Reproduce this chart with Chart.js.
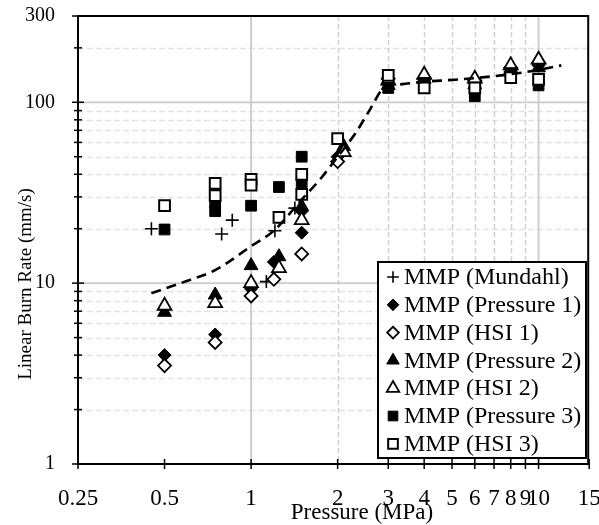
<!DOCTYPE html>
<html>
<head>
<meta charset="utf-8">
<script src="https://cdn.jsdelivr.net/npm/chart.js@4.4.1/dist/chart.umd.min.js"></script>
<style>
html, body { margin: 0; padding: 0; background: #fff; }
</style>
</head>
<body>
<canvas id="burnChart" width="599" height="525"></canvas>
<script>
// pressures (MPa) and burn rates (mm/s)
const mundahlP = [0.45, 0.79, 0.86, 1.13, 1.21, 1.42];
const mundahlR = [20, 18.7, 22.3, 10.2, 19.5, 26];

const press1P = [0.5, 0.75, 1.0, 1.2, 1.5, 1.5, 2.0, 3, 4, 6, 8, 10];
const press1R = [4.0, 5.2, 9.3, 13.1, 25, 19, 50, 128, 131, 128, 148, 160];

const hsi1P = [0.5, 0.75, 1.0, 1.2, 1.5, 2.0, 3, 4, 6, 8, 10];
const hsi1R = [3.5, 4.7, 8.5, 10.5, 14.5, 47, 135, 136, 132, 155, 165];

const press2P = [0.5, 0.75, 1.0, 1.25, 1.5, 2.1, 3, 4, 6, 8, 10];
const press2R = [6.9, 8.6, 12.5, 14, 26.5, 57, 124, 134, 125, 152, 155];

const hsi2P = [0.5, 0.75, 1.0, 1.25, 1.5, 2.1, 3, 4, 6, 8, 10];
const hsi2R = [7.5, 7.75, 10.0, 12.1, 22.3, 53, 132, 142, 135, 160, 172];

const press3P = [0.5, 0.75, 0.75, 1.0, 1.25, 1.5, 1.5, 3, 4, 6, 8, 10];
const press3R = [19.8, 27.6, 25, 26.8, 34, 50, 36, 120, 128, 108, 145, 124];

const hsi3P = [0.5, 0.75, 0.75, 1.0, 1.0, 1.25, 1.5, 1.5, 2.0, 3, 4, 6, 8, 10];
const hsi3R = [26.8, 35.6, 30.5, 37.5, 34.8, 23.1, 40, 31, 63, 141, 120, 120, 137, 134];

// dashed trend line
const fitP = [0.45, 0.6, 0.75, 1.0, 1.2, 1.5, 1.75, 2.0, 2.3, 2.6, 2.85, 3.0, 3.5, 4, 5, 6, 8, 10, 12];
const fitR = [8.8, 10.3, 11.8, 16.0, 19.5, 29, 38, 50, 67, 92, 117, 122, 127, 130, 133, 136, 143, 151, 160];

const seriesNames = ['MMP (Mundahl)', 'MMP (Pressure 1)', 'MMP (HSI 1)', 'MMP (Pressure 2)',
                     'MMP (HSI 2)', 'MMP (Pressure 3)', 'MMP (HSI 3)'];

const xTickVals = [0.25, 0.5, 1, 2, 3, 4, 5, 6, 7, 8, 9, 10, 15];
const yTickVals = [1, 10, 100, 300];
const yMinorVals = [2, 3, 4, 5, 6, 7, 8, 9, 20, 30, 40, 50, 60, 70, 80, 90, 200];
const xSolidGrid = [1, 10];
const xDashGrid = [2, 3, 4, 5, 6, 7, 8, 9];
const ySolidGrid = [10, 100];

const FONT = '"Liberation Serif", "Times New Roman", serif';

function pts(p, r) {
    return p.map((x, i) => ({ x: x, y: r[i] }));
}

const markers = [
    { style: 'cross', radius: 6.5, fill: '#000', width: 1.6 },
    { style: 'rectRot', radius: 6.5, fill: '#000', width: 1 },
    { style: 'rectRot', radius: 6.5, fill: '#fff', width: 1.8 },
    { style: 'triangle', radius: 8, fill: '#000', width: 1 },
    { style: 'triangle', radius: 8, fill: '#fff', width: 1.8 },
    { style: 'rect', radius: 7.6, fill: '#000', width: 1 },
    { style: 'rect', radius: 7.6, fill: '#fff', width: 2 }
];

const seriesData = [
    pts(mundahlP, mundahlR), pts(press1P, press1R), pts(hsi1P, hsi1R),
    pts(press2P, press2R), pts(hsi2P, hsi2R), pts(press3P, press3R), pts(hsi3P, hsi3R)
];

// later series sit on top, trend line over everything
const datasets = [{
    label: 'fit',
    data: pts(fitP, fitR),
    showLine: true,
    borderColor: '#000',
    borderWidth: 2.6,
    borderDash: [10, 6],
    pointRadius: 0,
    cubicInterpolationMode: 'monotone',
    order: 0
}];
seriesNames.forEach((name, i) => {
    const m = markers[i];
    datasets.push({
        label: name,
        data: seriesData[i],
        pointStyle: m.style,
        pointRadius: m.radius,
        pointHoverRadius: m.radius,
        backgroundColor: m.fill,
        borderColor: '#000',
        borderWidth: m.width,
        order: 7 - i
    });
});

function drawMarker(ctx, m, x, y) {
    const r = m.radius;
    ctx.save();
    ctx.fillStyle = m.fill;
    ctx.strokeStyle = '#000';
    ctx.lineWidth = m.width;
    ctx.beginPath();
    if (m.style === 'cross') {
        ctx.moveTo(x - r, y); ctx.lineTo(x + r, y);
        ctx.moveTo(x, y - r); ctx.lineTo(x, y + r);
        ctx.stroke();
        ctx.restore();
        return;
    }
    if (m.style === 'rectRot') {
        ctx.moveTo(x, y - r); ctx.lineTo(x + r, y); ctx.lineTo(x, y + r); ctx.lineTo(x - r, y);
    } else if (m.style === 'triangle') {
        ctx.moveTo(x, y - r);
        ctx.lineTo(x + r * 0.866, y + r * 0.5);
        ctx.lineTo(x - r * 0.866, y + r * 0.5);
    } else {
        const s = r * Math.SQRT1_2;
        ctx.rect(x - s, y - s, 2 * s, 2 * s);
    }
    ctx.closePath();
    ctx.fill();
    ctx.stroke();
    ctx.restore();
}

const gridPlugin = {
    id: 'gridAndFrame',
    beforeDatasetsDraw(chart) {
        const ctx = chart.ctx;
        const a = chart.chartArea;
        const xs = chart.scales.x, ys = chart.scales.y;
        ctx.save();
        // horizontal minor dashed
        ctx.setLineDash([6, 3]);
        ctx.strokeStyle = '#e2e2e2';
        ctx.lineWidth = 1.5;
        yMinorVals.forEach(v => {
            const y = Math.round(ys.getPixelForValue(v)) + 0.5;
            ctx.beginPath(); ctx.moveTo(a.left, y); ctx.lineTo(a.right, y); ctx.stroke();
        });
        // vertical dashed
        ctx.setLineDash([5, 3]);
        ctx.strokeStyle = '#d2d2d2';
        xDashGrid.forEach(v => {
            const x = Math.round(xs.getPixelForValue(v)) + 0.5;
            ctx.beginPath(); ctx.moveTo(x, a.top); ctx.lineTo(x, a.bottom); ctx.stroke();
        });
        // solid grid
        ctx.setLineDash([]);
        ctx.strokeStyle = '#cbcbcb';
        ctx.lineWidth = 1.8;
        ySolidGrid.forEach(v => {
            const y = ys.getPixelForValue(v);
            ctx.beginPath(); ctx.moveTo(a.left, y); ctx.lineTo(a.right, y); ctx.stroke();
        });
        xSolidGrid.forEach(v => {
            const x = xs.getPixelForValue(v);
            ctx.beginPath(); ctx.moveTo(x, a.top); ctx.lineTo(x, a.bottom); ctx.stroke();
        });
        // frame
        ctx.strokeStyle = '#000';
        ctx.lineWidth = 2;
        ctx.strokeRect(a.left, a.top, a.right - a.left - 1, a.bottom - a.top);
        // tick marks crossing the axes
        ctx.lineWidth = 1.5;
        xTickVals.forEach(v => {
            const x = xs.getPixelForValue(v);
            ctx.beginPath(); ctx.moveTo(x, a.bottom - 5); ctx.lineTo(x, a.bottom + 5); ctx.stroke();
        });
        yTickVals.forEach(v => {
            const y = ys.getPixelForValue(v);
            ctx.beginPath(); ctx.moveTo(a.left - 6, y); ctx.lineTo(a.left + 6, y); ctx.stroke();
        });
        yMinorVals.forEach(v => {
            const y = ys.getPixelForValue(v);
            ctx.beginPath(); ctx.moveTo(a.left - 4, y); ctx.lineTo(a.left + 4, y); ctx.stroke();
        });
        ctx.restore();
    },
    afterDraw(chart) {
        const ctx = chart.ctx;
        ctx.save();
        // axis titles
        ctx.fillStyle = '#000';
        ctx.textAlign = 'center';
        ctx.textBaseline = 'middle';
        ctx.font = '23px ' + FONT;
        ctx.fillText('Pressure (MPa)', 362, 513);
        ctx.save();
        ctx.translate(26, 284);
        ctx.rotate(-Math.PI / 2);
        ctx.font = '19px ' + FONT;
        ctx.fillText('Linear Burn Rate (mm/s)', 0, 0);
        ctx.restore();
        // legend box inside the plot
        const bx = 378, by = 262, bw = 208, bh = 196;
        ctx.fillStyle = '#fff';
        ctx.fillRect(bx, by, bw, bh);
        ctx.strokeStyle = '#000';
        ctx.lineWidth = 2;
        ctx.strokeRect(bx, by, bw, bh);
        ctx.font = '24px ' + FONT;
        ctx.textAlign = 'left';
        ctx.fillStyle = '#000';
        seriesNames.forEach((name, i) => {
            const cy = 277 + i * 27.8;
            const m = Object.assign({}, markers[i], { radius: markers[i].radius * 0.9 });
            drawMarker(ctx, m, 393, cy);
            ctx.fillStyle = '#000';
            ctx.fillText(name, 404, cy + 1);
        });
        ctx.restore();
    }
};

Chart.defaults.font.family = FONT;
Chart.defaults.color = '#000';

new Chart(document.getElementById('burnChart'), {
    type: 'scatter',
    data: { datasets: datasets },
    options: {
        responsive: false,
        animation: false,
        devicePixelRatio: 1,
        layout: { padding: { top: 16, right: 1, left: 0, bottom: 0 } },
        plugins: { legend: { display: false }, tooltip: { enabled: false } },
        scales: {
            x: {
                type: 'logarithmic',
                min: 0.25,
                max: 15,
                afterBuildTicks: s => { s.ticks = xTickVals.map(v => ({ value: v })); },
                afterFit: s => { s.height = 61; s.paddingLeft = 0; s.paddingRight = 0; },
                ticks: {
                    autoSkip: false,
                    maxRotation: 0,
                    padding: 21,
                    font: { size: 23 },
                    callback: v => String(v)
                },
                grid: { display: false, drawTicks: false },
                border: { display: false }
            },
            y: {
                type: 'logarithmic',
                min: 1,
                max: 300,
                afterBuildTicks: s => { s.ticks = yTickVals.map(v => ({ value: v })); },
                afterFit: s => { s.width = 78; s.paddingTop = 0; s.paddingBottom = 0; },
                ticks: {
                    autoSkip: false,
                    padding: 23,
                    font: { size: 20 },
                    callback: v => String(v)
                },
                grid: { display: false, drawTicks: false },
                border: { display: false }
            }
        }
    },
    plugins: [gridPlugin]
});
</script>
</body>
</html>
